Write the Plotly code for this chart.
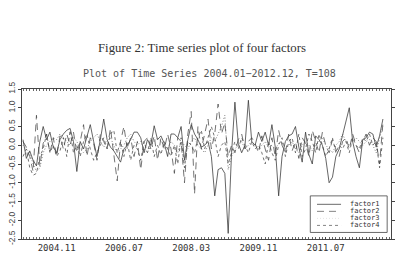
import plotly.graph_objects as go

factor1 = [0.15, -0.35, -0.15, -0.4, -0.55, 0.1, 0.5, 0.15, 0.35, -0.05,
           -0.2, 0.15, 0.3, 0.4, 0.45, 0.1, -0.7, 0.1, -0.1, 0.2,
           0.55, 0.1, -0.3, 0.15, 0.7, 0.15, -0.05, -0.15, -0.3, -0.45,
           -0.1, 0.0, 0.15, 0.35, 0.35, 0.2, -0.2, 0.15, 0.0, 0.52,
           0.15, 0.25, 0.05, -0.3, 0.3, 0.3, 0.2, 0.5, -0.4, 0.15,
           0.55, 0.3, 0.15, -0.05, 0.0, 0.1, -0.3, -1.35, -0.65, -0.6,
           -0.75, -2.35, -0.2, 1.15, 0.05, -0.2, 0.0, 1.2, 0.1, 0.0,
           0.35, 0.1, 0.35, 0.0, 0.55, -0.05, -1.35, -0.3, 0.1, 0.25,
           0.3, 0.5, -0.05, -0.45, 0.35, -0.25, -0.5, 0.25, 0.15, 0.0,
           -0.35, -1.0, -0.85, -0.3, -0.1, 0.25, 0.6, 1.0, 0.1, -0.3,
           -0.6, 0.15, 0.2, 0.35, 0.3, -0.05, 0.25, 0.7]

factor2 = [0.1, -0.05, -0.3, -0.7, 0.8, -0.55, 0.05, 0.3, -0.2, 0.2,
           -0.3, 0.25, -0.1, 0.3, 0.0, 0.35, -0.2, 0.1, 0.55, -0.3,
           0.2, 0.05, -0.4, 0.3, 0.1, -0.1, 0.45, -0.2, -0.95, 0.1,
           0.5, -0.1, 0.2, -0.3, 0.1, -0.65, 0.1, 0.2, -0.1, 0.25,
           -0.4, 0.2, -0.1, 0.3, -0.1, -0.75, 0.2, 0.1, -1.0, 0.3,
           0.9, -1.3, 0.5, -0.1, 0.3, 0.7, -0.1, 0.3, 1.1, 0.3,
           0.6, -0.3, 0.0, -0.2, 0.15, 0.3, -0.1, 0.1, 0.2, 0.05,
           -0.2, 0.25, -0.1, -0.4, 0.2, -0.3, 0.4, 0.0, -0.2, 0.3,
           -0.15, 0.1, -0.35, 0.2, 0.05, -0.3, 0.4, 0.1, -0.2, 0.35,
           0.0, -0.2, 0.15, -0.1, -0.3, 0.1, 0.2, -0.1, 0.3, 0.0,
           -0.2, 0.1, 0.3, 0.0, 0.2, 0.1, -0.5, 0.6]

factor3 = [0.0, -0.1, -0.2, -0.5, -0.7, -0.6, -0.2, 0.0, 0.1, 0.2,
           0.15, 0.3, 0.2, 0.1, 0.0, 0.2, 0.1, -0.1, -0.2, -0.1,
           0.1, 0.2, 0.3, 0.1, -0.05, 0.1, 0.2, 0.0, -0.2, -0.1,
           0.0, 0.2, 0.3, 0.1, 0.0, 0.1, -0.1, -0.2, 0.0, 0.1,
           0.2, 0.1, 0.0, -0.1, 0.1, 0.0, -0.2, 0.1, 0.0, -0.1,
           0.1, 0.2, 0.0, -0.1, -0.2, 0.0, 0.2, 0.1, 0.3, 0.5,
           0.8, -0.65, -0.3, -0.1, 0.0, 0.1, -0.1, 0.0, 0.1, 0.0,
           -0.1, 0.0, 0.1, -0.05, 0.0, -0.1, 0.05, 0.1, -0.1, 0.0,
           0.1, -0.1, -0.2, 0.0, 0.1, 0.0, -0.15, 0.0, 0.1, 0.2,
           0.0, -0.1, -0.2, 0.0, 0.1, 0.3, 0.1, 0.0, 0.1, 0.2,
           0.1, 0.0, 0.1, 0.15, 0.0, -0.2, 0.2, 0.5]

factor4 = [-0.3, -0.1, -0.6, -0.8, -0.75, -0.3, -0.1, 0.3, -0.2, 0.0,
           -0.3, -0.15, 0.2, -0.3, 0.4, -0.2, 0.0, -0.3, 0.1, 0.3,
           -0.1, -0.4, -0.2, 0.0, 0.2, -0.1, 0.3, 0.4, -0.2, 0.1,
           -0.3, 0.1, -0.4, 0.0, -0.1, -0.4, 0.1, -0.2, 0.2, -0.3,
           0.0, -0.25, 0.1, -0.1, -0.3, 0.0, -0.5, 0.2, -0.6, 0.1,
           0.0, -0.2, 0.2, 0.4, -0.1, 0.2, 0.5, 0.2, -0.3, 0.0,
           0.1, -0.5, -0.2, 0.1, -0.1, 0.2, 0.0, -0.2, 0.1, -0.1,
           0.0, -0.2, -0.5, 0.1, -0.2, -0.4, 0.0, 0.2, -0.3, 0.1,
           0.2, -0.2, 0.3, -0.3, -0.1, 0.3, 0.1, -0.2, 0.3, 0.0,
           -0.3, -0.1, 0.2, -0.2, 0.0, -0.1, 0.1, -0.2, 0.2, 0.0,
           -0.1, 0.2, 0.1, 0.3, 0.0, 0.1, -0.6, 0.2]

series_names = ["factor1", "factor2", "factor3", "factor4"]
series_dash = ["solid", "7px,5px", "1px,2px", "3px,3px"]
series_color = ["#333333", "#444444", "#555555", "#444444"]
legend_color = ["#444444", "#666666", "#dddddd", "#666666"]

x_tick_pos = [10, 30, 50, 70, 90]
x_tick_text = ["2004.11", "2006.07", "2008.03", "2009.11", "2011.07"]
y_tick_vals = [1.5, 1.0, 0.5, 0.0, -0.5, -1.0, -1.5, -2.0, -2.5]
y_tick_text = ["1.5", "1.0", "0.5", "0.0", "-0.5", "-1.0", "-1.5", "-2.0", "-2.5"]

mono = "DejaVu Sans Mono"

fig = go.Figure()
all_series = [factor1, factor2, factor3, factor4]
for vals, name, dash, col in zip(all_series, series_names, series_dash, series_color):
    fig.add_trace(go.Scatter(
        x=list(range(len(vals))), y=vals, mode="lines", name=name,
        line=dict(color=col, width=0.75, dash=dash), showlegend=False))

# plot area geometry (px) for paper conversion
L, R, T, B = 11, 395, 89, 249
W, H = R - L, B - T

def px(x):
    return (x - L) / W

def py(y):
    return (B - y) / H

shapes = []
annotations = []
# legend box
shapes.append(dict(type="rect", xref="paper", yref="paper",
                   x0=px(311), x1=px(391), y0=py(242), y1=py(203),
                   line=dict(color="#444444", width=0.8), fillcolor="white", layer="above"))
rows = [212, 219.5, 227, 234.5]
for rowy, name, dash, col in zip(rows, series_names, series_dash, legend_color):
    shapes.append(dict(type="line", xref="paper", yref="paper",
                       x0=px(318), x1=px(343), y0=py(rowy), y1=py(rowy),
                       line=dict(color=col, width=0.8, dash=dash), layer="above"))
    annotations.append(dict(xref="paper", yref="paper", x=px(350), y=py(rowy),
                            text=name, showarrow=False, xanchor="left", yanchor="middle",
                            font=dict(family=mono, size=7, color="#333333")))

annotations.append(dict(xref="paper", yref="paper", x=px(198), y=py(45),
                        text="Figure 2: Time series plot of four factors", showarrow=False,
                        xanchor="center", yanchor="middle",
                        font=dict(family="Liberation Serif", size=12.8, color="#333333")))
annotations.append(dict(xref="paper", yref="paper", x=px(206), y=py(73),
                        text="Plot of Time Series 2004.01\u22122012.12, T=108", showarrow=False,
                        xanchor="center", yanchor="middle",
                        font=dict(family=mono, size=10, color="#555555")))

fig.update_layout(
    width=402, height=260,
    margin=dict(l=L, r=402 - R, t=T, b=260 - B, pad=0),
    paper_bgcolor="white", plot_bgcolor="white",
    shapes=shapes, annotations=annotations,
    xaxis=dict(range=[-0.3, 109.4], tickmode="array", tickvals=x_tick_pos,
               ticktext=x_tick_text, showgrid=False, zeroline=False,
               showline=True, linecolor="#444444", linewidth=0.8, mirror="allticks",
               ticks="inside", ticklen=2, tickcolor="#444444", tickwidth=0.8,
               minor=dict(dtick=1, tick0=0, ticks="inside", ticklen=2,
                          tickcolor="#666666", tickwidth=0.6, showgrid=False),
               tickfont=dict(family=mono, size=9, color="#333333")),
    yaxis=dict(range=[-2.5, 1.5], tickmode="array", tickvals=y_tick_vals,
               ticktext=y_tick_text, showgrid=False, zeroline=False,
               showline=True, linecolor="#444444", linewidth=0.8, mirror="ticks",
               ticks="outside", ticklen=3, tickcolor="#444444", tickwidth=0.8,
               tickangle=-90,
               tickfont=dict(family="Liberation Sans", size=8.5, color="#444444")),
)

fig.write_html("out.html")
